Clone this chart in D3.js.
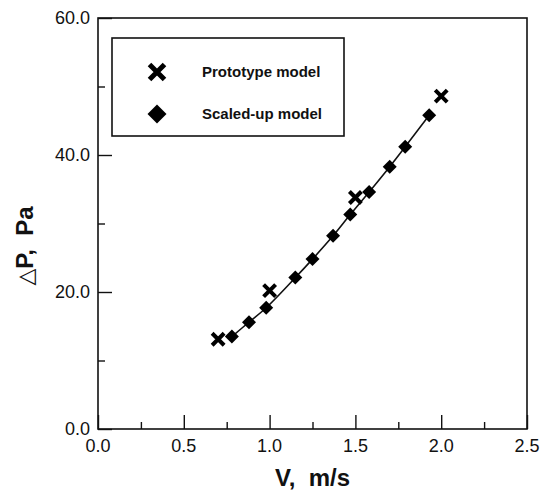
<!DOCTYPE html>
<html>
<head>
<meta charset="utf-8">
<script src="https://cdn.jsdelivr.net/npm/d3@7"></script>
<style>
  html, body { margin: 0; padding: 0; background: #fff; }
  svg { display: block; font-family: "Liberation Sans", Arial, sans-serif; }
</style>
</head>
<body>
<svg id="chart" width="546" height="491"></svg>
<script>
// Pressure drop vs. superficial velocity for the two models
const protoV  = [0.70, 1.00, 1.50, 2.00];
const protoDP = [13.1, 20.2, 33.8, 48.6];

const scaledV  = [0.78, 0.88, 0.98, 1.15, 1.25, 1.37, 1.47, 1.58, 1.70, 1.79, 1.93];
const scaledDP = [13.5, 15.6, 17.7, 22.1, 24.8, 28.2, 31.3, 34.6, 38.3, 41.2, 45.8];

const xMajor = [0, 0.5, 1.0, 1.5, 2.0, 2.5];
const xMinor = [0.25, 0.75, 1.25, 1.75, 2.25];
const yMajor = [0, 20, 40, 60];
const yMinor = [10, 30, 50];

const legendLabels = ["Prototype model", "Scaled-up model"];

// layout
const plot = { left: 98, right: 527, top: 18, bottom: 429 };
const svg = d3.select("#chart");

const x = d3.scaleLinear().domain([0, 2.5]).range([plot.left, plot.right]);
const y = d3.scaleLinear().domain([0, 60]).range([plot.bottom, plot.top]);

const fmt = d3.format(".1f");

// frame
svg.append("rect")
  .attr("x", plot.left).attr("y", plot.top)
  .attr("width", plot.right - plot.left).attr("height", plot.bottom - plot.top)
  .attr("fill", "none").attr("stroke", "#111").attr("stroke-width", 1.6);

// x axis: inward ticks
const xAxis = d3.axisTop(x).tickValues(xMajor).tickSize(14).tickFormat("");
svg.append("g").attr("transform", `translate(0,${plot.bottom})`).call(xAxis)
  .call(g => g.select(".domain").remove())
  .call(g => g.selectAll("line").attr("stroke", "#111").attr("stroke-width", 1.4));
const xAxisMinor = d3.axisTop(x).tickValues(xMinor).tickSize(7).tickFormat("");
svg.append("g").attr("transform", `translate(0,${plot.bottom})`).call(xAxisMinor)
  .call(g => g.select(".domain").remove())
  .call(g => g.selectAll("line").attr("stroke", "#111").attr("stroke-width", 1.4));

svg.append("g").selectAll("text").data(xMajor).join("text")
  .attr("x", d => x(d)).attr("y", 452)
  .attr("text-anchor", "middle").attr("font-size", 18).attr("fill", "#111")
  .text(d => fmt(d));

// y axis: inward ticks
const yAxis = d3.axisRight(y).tickValues(yMajor).tickSize(14).tickFormat("");
svg.append("g").attr("transform", `translate(${plot.left},0)`).call(yAxis)
  .call(g => g.select(".domain").remove())
  .call(g => g.selectAll("line").attr("stroke", "#111").attr("stroke-width", 1.4));
const yAxisMinor = d3.axisRight(y).tickValues(yMinor).tickSize(7).tickFormat("");
svg.append("g").attr("transform", `translate(${plot.left},0)`).call(yAxisMinor)
  .call(g => g.select(".domain").remove())
  .call(g => g.selectAll("line").attr("stroke", "#111").attr("stroke-width", 1.4));

svg.append("g").selectAll("text").data(yMajor).join("text")
  .attr("x", 90).attr("y", d => y(d)).attr("dy", "0.36em")
  .attr("text-anchor", "end").attr("font-size", 18).attr("fill", "#111")
  .text(d => fmt(d));

// axis titles
svg.append("text")
  .attr("x", (plot.left + plot.right) / 2).attr("y", 486)
  .attr("text-anchor", "middle").attr("font-size", 24).attr("font-weight", "bold")
  .attr("fill", "#111").attr("xml:space", "preserve")
  .text("V,  m/s");

const yTitle = svg.append("text")
  .attr("transform", "translate(33,246) rotate(-90)")
  .attr("text-anchor", "middle").attr("font-size", 24).attr("fill", "#111")
  .attr("xml:space", "preserve");
yTitle.append("tspan").attr("font-weight", "normal").attr("font-family", "DejaVu Sans").attr("font-size", 22).text("△");
yTitle.append("tspan").attr("font-weight", "bold").text("P,  Pa");

// marker shapes
const crossPath = r => `M${-r},${-r}L${r},${r}M${-r},${r}L${r},${-r}`;
const diamondPath = r => `M0,${-r}L${r},0L0,${r}L${-r},0Z`;

// fitted curve through scaled-up model points
const scaled = scaledV.map((v, i) => ({ v, dp: scaledDP[i] }));
const proto = protoV.map((v, i) => ({ v, dp: protoDP[i] }));

svg.append("path")
  .datum(scaled)
  .attr("fill", "none").attr("stroke", "#111").attr("stroke-width", 1.6)
  .attr("d", d3.line().x(d => x(d.v)).y(d => y(d.dp)).curve(d3.curveCatmullRom));

svg.append("g").selectAll("path").data(scaled).join("path")
  .attr("transform", d => `translate(${x(d.v)},${y(d.dp)})`)
  .attr("d", diamondPath(7)).attr("fill", "#000");

svg.append("g").selectAll("path").data(proto).join("path")
  .attr("transform", d => `translate(${x(d.v)},${y(d.dp)})`)
  .attr("d", crossPath(6)).attr("fill", "none")
  .attr("stroke", "#000").attr("stroke-width", 4);

// legend
const legend = svg.append("g");
legend.append("rect")
  .attr("x", 112).attr("y", 38).attr("width", 232).attr("height", 98)
  .attr("fill", "#fff").attr("stroke", "#111").attr("stroke-width", 1.6);
legend.append("path")
  .attr("transform", "translate(157,72)")
  .attr("d", crossPath(7.5)).attr("fill", "none")
  .attr("stroke", "#000").attr("stroke-width", 5);
legend.append("path")
  .attr("transform", "translate(157,114)")
  .attr("d", diamondPath(9.5)).attr("fill", "#000");
legend.selectAll("text").data(legendLabels).join("text")
  .attr("x", 202).attr("y", (d, i) => i === 0 ? 77 : 119)
  .attr("font-size", 15).attr("font-weight", "bold").attr("fill", "#111")
  .text(d => d);
</script>
</body>
</html>
